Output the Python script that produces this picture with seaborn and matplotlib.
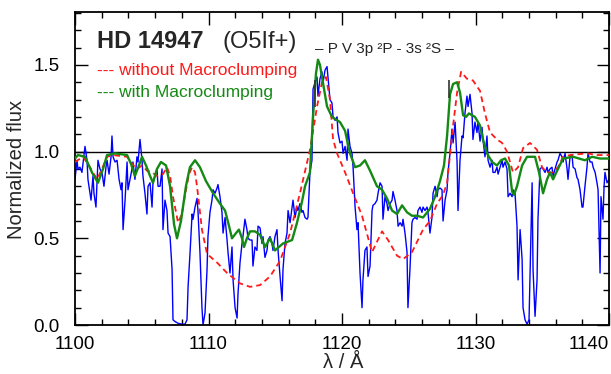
import numpy as np
import pandas as pd
import matplotlib
matplotlib.use("Agg")
import matplotlib.pyplot as plt
from matplotlib.ticker import MultipleLocator
import seaborn as sns

# ---------------- data ----------------
obs_wave = [1100.00, 1100.15, 1100.22, 1100.37, 1100.52, 1100.75, 1100.90, 1100.97, 1101.20, 1101.35,
            1101.42, 1101.57, 1101.72, 1101.87, 1102.02, 1102.17, 1102.32, 1102.40, 1102.55, 1102.70,
            1102.77, 1102.85, 1103.00, 1103.15, 1103.30, 1103.45, 1103.52, 1103.60, 1103.75, 1103.90,
            1103.97, 1104.12, 1104.27, 1104.34, 1104.49, 1104.64, 1104.72, 1104.87, 1105.02, 1105.09,
            1105.24, 1105.39, 1105.47, 1105.62, 1105.77, 1105.84, 1105.99, 1106.14, 1106.22, 1106.37,
            1106.52, 1106.59, 1106.74, 1106.89, 1106.97, 1107.12, 1107.27, 1107.34, 1107.49, 1107.72,
            1108.01, 1108.24, 1108.39, 1108.47, 1108.62, 1108.77, 1108.84, 1108.99, 1109.14, 1109.21,
            1109.36, 1109.51, 1109.59, 1109.74, 1109.89, 1109.96, 1110.11, 1110.26, 1110.34, 1110.49,
            1110.64, 1110.71, 1110.86, 1111.01, 1111.09, 1111.24, 1111.39, 1111.46, 1111.61, 1111.76,
            1111.84, 1111.99, 1112.14, 1112.21, 1112.36, 1112.51, 1112.58, 1112.73, 1112.88, 1112.96,
            1113.11, 1113.26, 1113.33, 1113.48, 1113.63, 1113.71, 1113.86, 1114.01, 1114.08, 1114.23,
            1114.38, 1114.46, 1114.61, 1114.76, 1114.83, 1114.98, 1115.13, 1115.21, 1115.36, 1115.51,
            1115.58, 1115.73, 1115.88, 1115.96, 1116.11, 1116.26, 1116.33, 1116.48, 1116.63, 1116.70,
            1116.85, 1117.00, 1117.08, 1117.23, 1117.38, 1117.45, 1117.60, 1117.75, 1117.83, 1117.98,
            1118.13, 1118.20, 1118.35, 1118.50, 1118.58, 1118.73, 1118.88, 1118.95, 1119.10, 1119.25,
            1119.33, 1119.48, 1119.63, 1119.70, 1119.85, 1120.00, 1120.08, 1120.23, 1120.38, 1120.45,
            1120.60, 1120.75, 1120.83, 1120.98, 1121.12, 1121.20, 1121.35, 1121.50, 1121.57, 1121.72,
            1121.87, 1121.95, 1122.10, 1122.25, 1122.32, 1122.47, 1122.62, 1122.70, 1122.85, 1123.00,
            1123.07, 1123.22, 1123.37, 1123.45, 1123.60, 1123.75, 1123.82, 1123.97, 1124.12, 1124.20,
            1124.35, 1124.50, 1124.57, 1124.72, 1124.87, 1124.94, 1125.09, 1125.24, 1125.32, 1125.47,
            1125.62, 1125.69, 1125.84, 1125.99, 1126.07, 1126.22, 1126.37, 1126.44, 1126.59, 1126.74,
            1126.82, 1126.97, 1127.12, 1127.19, 1127.34, 1127.49, 1127.57, 1127.72, 1127.87, 1127.94,
            1128.09, 1128.24, 1128.32, 1128.47, 1128.62, 1128.69, 1128.84, 1128.99, 1129.07, 1129.21,
            1129.36, 1129.44, 1129.59, 1129.74, 1129.81, 1129.96, 1130.11, 1130.19, 1130.34, 1130.49,
            1130.56, 1130.71, 1130.86, 1130.94, 1131.09, 1131.24, 1131.31, 1131.46, 1131.61, 1131.69,
            1131.84, 1131.99, 1132.06, 1132.21, 1132.36, 1132.44, 1132.59, 1132.74, 1132.81, 1132.96,
            1133.11, 1133.19, 1133.34, 1133.49, 1133.56, 1133.71, 1133.86, 1134.01, 1134.24, 1134.31,
            1134.46, 1134.61, 1134.68, 1134.83, 1134.98, 1135.06, 1135.21, 1135.36, 1135.43, 1135.58,
            1135.73, 1135.81, 1135.96, 1136.11, 1136.18, 1136.33, 1136.48, 1136.56, 1136.71, 1136.86,
            1136.93, 1137.08, 1137.23, 1137.31, 1137.46, 1137.60, 1137.68, 1137.83, 1137.98, 1138.05,
            1138.20, 1138.35, 1138.43, 1138.58, 1138.73, 1138.81, 1138.96, 1139.10, 1139.18, 1139.33,
            1139.40, 1139.55, 1139.63, 1139.70, 1139.85, 1140.00]
obs_flux = [0.84, 0.95, 0.90, 0.91, 0.88, 1.03, 0.95, 0.84, 0.72, 0.86,
            0.76, 0.68, 0.95, 0.90, 0.88, 0.80, 0.91, 0.95, 0.87, 0.97,
            1.09, 0.97, 0.94, 0.95, 0.84, 0.78, 0.82, 0.55, 0.72, 0.94,
            0.78, 0.84, 0.90, 0.94, 0.84, 0.97, 0.94, 1.07, 0.95, 0.86,
            0.76, 0.64, 0.80, 0.82, 0.68, 0.82, 0.86, 0.90, 0.80, 0.80,
            0.90, 0.55, 0.72, 0.66, 0.53, 0.51, 0.32, 0.03, 0.02, 0.01,
            0.005, 0.005, 0.03, 0.22, 0.42, 0.64, 0.61, 0.68, 0.73, 0.66,
            0.42, 0.10, 0.00, 0.07, 0.32, 0.51, 0.65, 0.72, 0.78, 0.76,
            0.79, 0.81, 0.74, 0.65, 0.53, 0.62, 0.49, 0.42, 0.30, 0.45,
            0.26, 0.10, 0.04, 0.18, 0.36, 0.47, 0.51, 0.61, 0.55, 0.50,
            0.49, 0.49, 0.34, 0.45, 0.43, 0.57, 0.56, 0.47, 0.51, 0.39,
            0.43, 0.49, 0.51, 0.47, 0.43, 0.51, 0.55, 0.43, 0.28, 0.14,
            0.32, 0.47, 0.53, 0.66, 0.59, 0.68, 0.72, 0.62, 0.68, 0.66,
            0.70, 0.65, 0.66, 0.62, 0.61, 0.62, 0.88, 0.95, 1.36, 1.40,
            1.43, 1.32, 1.42, 1.46, 1.40, 1.47, 1.49, 1.43, 1.30, 1.28,
            1.20, 1.18, 1.20, 1.11, 1.05, 1.06, 0.99, 1.03, 0.95, 1.13,
            1.03, 0.99, 0.91, 0.68, 0.55, 0.59, 0.30, 0.10, 0.26, 0.43,
            0.45, 0.28, 0.34, 0.66, 0.69, 0.70, 0.72, 0.76, 0.82, 0.80,
            0.61, 0.74, 0.70, 0.66, 0.70, 0.72, 0.77, 0.72, 0.66, 0.57,
            0.59, 0.57, 0.61, 0.53, 0.42, 0.10, 0.32, 0.59, 0.61, 0.62,
            0.61, 0.66, 0.68, 0.65, 0.68, 0.66, 0.68, 0.65, 0.53, 0.62,
            0.76, 0.80, 0.74, 0.78, 0.79, 0.78, 0.60, 0.72, 0.78, 0.88,
            0.99, 1.13, 1.05, 1.17, 0.94, 0.66, 0.95, 1.09, 1.08, 1.22,
            1.32, 1.26, 1.33, 1.22, 1.07, 1.17, 1.11, 1.17, 1.06, 1.14,
            1.07, 0.97, 1.09, 0.95, 0.91, 0.95, 0.88, 0.88, 0.91, 0.87,
            0.91, 0.95, 0.91, 0.94, 0.90, 0.74, 0.76, 0.74, 0.78, 0.76,
            0.57, 0.26, 0.55, 0.38, 0.10, 0.03, 0.005, 0.03, 0.82, 0.32,
            0.05, 0.26, 0.61, 0.90, 0.91, 0.90, 0.88, 0.91, 0.88, 0.90,
            0.91, 0.86, 0.90, 0.94, 0.95, 0.99, 0.97, 0.94, 0.99, 0.90,
            0.84, 0.97, 0.98, 0.91, 0.90, 0.85, 0.84, 0.78, 0.68, 0.68,
            0.80, 0.91, 0.99, 0.94, 0.94, 0.91, 0.88, 0.82, 0.78, 0.30,
            0.74, 0.61, 0.80, 0.88, 0.82, 0.84]

nomc_wave = [1100.00, 1100.60, 1101.12, 1101.65, 1102.02, 1102.40, 1102.85, 1103.90, 1104.27, 1104.64,
             1105.02, 1105.39, 1105.77, 1106.14, 1106.59, 1106.89, 1107.12, 1107.34, 1107.72, 1108.01,
             1108.24, 1108.54, 1108.77, 1108.99, 1109.14, 1109.51, 1109.89, 1110.64, 1111.39, 1112.36,
             1113.11, 1113.86, 1114.61, 1115.36, 1116.11, 1116.85, 1117.60, 1118.13, 1118.50, 1118.80,
             1119.10, 1119.33, 1119.63, 1120.23, 1120.83, 1121.50, 1122.25, 1122.62, 1123.00, 1123.45,
             1124.12, 1124.57, 1125.24, 1126.07, 1126.59, 1127.12, 1127.57, 1127.87, 1128.32, 1128.62,
             1128.92, 1129.36, 1129.81, 1130.34, 1130.71, 1131.09, 1131.61, 1131.99, 1132.36, 1132.81,
             1133.19, 1133.56, 1134.09, 1134.61, 1134.98, 1135.36, 1135.81, 1136.18, 1136.56, 1137.08,
             1138.35, 1139.10, 1140.00]
nomc_flux = [0.94, 0.97, 0.91, 0.84, 0.90, 0.97, 0.98, 0.97, 0.93, 0.90,
             0.92, 0.89, 0.88, 0.86, 0.87, 0.91, 0.86, 0.74, 0.59, 0.64,
             0.75, 0.87, 0.91, 0.88, 0.80, 0.55, 0.41, 0.36, 0.30, 0.24,
             0.22, 0.23, 0.28, 0.37, 0.53, 0.76, 1.01, 1.26, 1.40, 1.43,
             1.30, 1.07, 0.99, 0.88, 0.76, 0.63, 0.42, 0.48, 0.54, 0.49,
             0.40, 0.38, 0.42, 0.55, 0.60, 0.70, 0.75, 0.82, 1.15, 1.34,
             1.46, 1.42, 1.41, 1.35, 1.22, 1.11, 1.07, 1.05, 1.00, 0.88,
             0.91, 1.02, 1.05, 1.01, 0.91, 0.88, 0.88, 0.91, 0.97, 0.98,
             0.99, 0.98, 0.98]

mc_wave = [1100.00, 1100.22, 1100.75, 1101.27, 1101.72, 1102.10, 1102.40, 1103.00, 1103.90, 1104.19,
           1104.49, 1104.79, 1105.02, 1105.32, 1105.62, 1105.84, 1106.14, 1106.44, 1106.82, 1107.12,
           1107.42, 1107.64, 1107.94, 1108.31, 1108.61, 1108.99, 1109.36, 1109.81, 1110.34, 1110.86,
           1111.24, 1111.54, 1111.76, 1112.06, 1112.28, 1112.51, 1112.66, 1112.88, 1113.11, 1113.48,
           1113.86, 1114.23, 1114.61, 1114.98, 1115.58, 1116.26, 1116.63, 1117.00, 1117.23, 1117.60,
           1117.83, 1118.05, 1118.20, 1118.35, 1118.50, 1118.88, 1119.25, 1119.85, 1120.23, 1120.45,
           1120.60, 1120.98, 1121.35, 1121.72, 1122.10, 1122.62, 1123.00, 1123.37, 1123.75, 1124.12,
           1124.50, 1124.87, 1125.24, 1125.62, 1126.07, 1126.59, 1126.97, 1127.34, 1127.64, 1127.87,
           1128.09, 1128.32, 1128.62, 1128.84, 1129.07, 1129.29, 1129.51, 1129.96, 1130.34, 1130.56,
           1130.86, 1131.24, 1131.61, 1131.91, 1132.21, 1132.51, 1132.74, 1132.88, 1133.11, 1133.49,
           1133.86, 1134.46, 1134.76, 1135.06, 1135.36, 1135.58, 1135.81, 1136.18, 1136.56, 1137.31,
           1138.20, 1138.73, 1139.33, 1140.00]
mc_flux = [0.96, 0.98, 0.97, 0.88, 0.82, 0.90, 0.98, 0.99, 0.98, 0.93,
           0.86, 0.92, 0.97, 0.92, 0.86, 0.82, 0.90, 0.94, 0.92, 0.80,
           0.58, 0.50, 0.60, 0.80, 0.91, 0.95, 0.91, 0.83, 0.76, 0.70,
           0.66, 0.57, 0.50, 0.53, 0.55, 0.50, 0.45, 0.50, 0.54, 0.54,
           0.52, 0.45, 0.50, 0.43, 0.47, 0.49, 0.59, 0.71, 0.80, 0.88,
           1.20, 1.45, 1.53, 1.50, 1.43, 1.26, 1.20, 1.17, 1.12, 1.04,
           0.99, 0.91, 0.92, 0.95, 0.89, 0.80, 0.78, 0.73, 0.66, 0.64,
           0.69, 0.65, 0.63, 0.63, 0.62, 0.67, 0.74, 0.83, 0.92, 1.09,
           1.33, 1.39, 1.40, 1.34, 1.21, 1.20, 1.22, 1.20, 1.15, 1.07,
           0.99, 0.94, 0.92, 0.95, 0.96, 0.92, 0.77, 0.75, 0.80, 0.92,
           0.97, 0.97, 0.88, 0.76, 0.84, 0.88, 0.84, 0.90, 0.96, 0.97,
           0.95, 0.97, 0.96, 0.96]

rest_wave = [1117.98, 1128.01]
mark_lo = [1.26, 1.31]
mark_hi = [1.41, 1.41]

x_ticks = [1100, 1110, 1120, 1130, 1140]
y_ticks = [0.0, 0.5, 1.0, 1.5]
y_ticklabels = ["0.0", "0.5", "1.0", "1.5"]

# ---------------- style ----------------
sns.set_style("ticks")
FONT = ["Liberation Sans", "DejaVu Sans"]
plt.rcParams["font.family"] = FONT

BLUE = "#0000ff"
RED = "#ff1a1a"
GREEN = "#148a14"

fig = plt.figure(figsize=(6.11, 3.74), dpi=100)
ax = fig.add_axes([75 / 611, 49 / 374, 534 / 611, 313 / 374])

ax.axhline(1.0, color="black", lw=1.0, zorder=1)

df_obs = pd.DataFrame({"wave": obs_wave, "flux": obs_flux})
df_nomc = pd.DataFrame({"wave": nomc_wave, "flux": nomc_flux})
df_mc = pd.DataFrame({"wave": mc_wave, "flux": mc_flux})

sns.lineplot(data=df_obs, x="wave", y="flux", ax=ax, color=BLUE, lw=1.0,
             estimator=None, sort=False, zorder=2)
sns.lineplot(data=df_nomc, x="wave", y="flux", ax=ax, color=RED, lw=1.3,
             estimator=None, sort=False, zorder=3)
ax.lines[-1].set_dashes([3.2, 2.2])
sns.lineplot(data=df_mc, x="wave", y="flux", ax=ax, color=GREEN, lw=1.7,
             estimator=None, sort=False, zorder=4)

ax.vlines(rest_wave, mark_lo, mark_hi, color="#333333", lw=1.2, zorder=5)

ax.set_xlim(1100, 1140)
ax.set_ylim(0, 1.805)
ax.set_xlabel("")
ax.set_ylabel("")

ax.set_xticks(x_ticks)
ax.xaxis.set_minor_locator(MultipleLocator(2))
ax.set_yticks(y_ticks)
ax.set_yticklabels(y_ticklabels)
ax.yaxis.set_minor_locator(MultipleLocator(0.1))

ax.tick_params(which="both", direction="in", top=True, right=True, width=1.0,
               colors="black", labelsize=13.5)
ax.tick_params(axis="x", which="both", pad=8)
ax.tick_params(axis="y", which="both", pad=11)
ax.tick_params(which="major", length=9)
ax.tick_params(which="minor", length=4.5)
for lab in ax.get_xticklabels() + ax.get_yticklabels():
    lab.set_family(FONT)
xl = ax.get_xticklabels()
xl[-1].set_horizontalalignment("right")

for sp in ax.spines.values():
    sp.set_linewidth(1.3)
    sp.set_color("black")
    sp.set_visible(True)

W, H = 611, 374
fig.text(97 / W, 1 - 48 / H, "HD 14947", fontsize=17, fontweight="bold",
         family=FONT, va="baseline", ha="left")
fig.text(222 / W, 1 - 48 / H, "(O5If+)", fontsize=17, family=FONT,
         va="baseline", ha="left")
fig.text(315 / W, 1 - 53 / H, "– P V 3p ²P - 3s ²S –", fontsize=11,
         family=FONT, va="baseline", ha="left")
fig.text(97 / W, 1 - 75 / H, "--- without Macroclumping", fontsize=12.5,
         family=FONT, color=RED, va="baseline", ha="left")
fig.text(97 / W, 1 - 97 / H, "--- with Macroclumping", fontsize=12.5,
         family=FONT, color=GREEN, va="baseline", ha="left")
fig.text(17 / W, 1 - 169 / H, "Normalized flux", fontsize=14.5, family=FONT,
         rotation=90, ha="center", va="center")
fig.text(343 / W, 1 - 363 / H, "λ / Å", fontsize=14.5, family=FONT,
         ha="center", va="center")

fig.savefig("out.png", dpi=100, facecolor="white")
